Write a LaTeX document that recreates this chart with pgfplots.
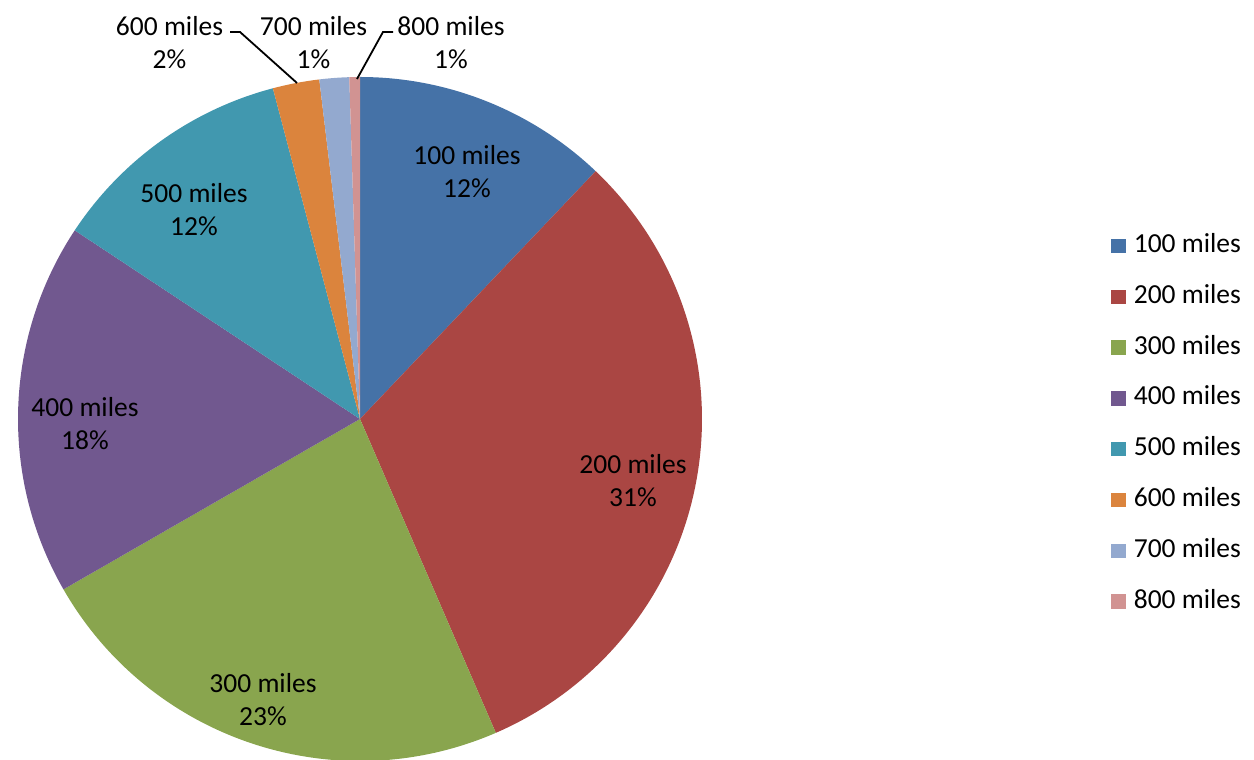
\documentclass[border=0pt]{standalone}
\usepackage{pgfplots}
\usepackage{pgfplotstable}
\pgfplotsset{compat=1.18}
\usepackage{fontspec}
\setmainfont{Carlito}
\definecolor{c0}{HTML}{4572A7}
\definecolor{c1}{HTML}{AA4643}
\definecolor{c2}{HTML}{89A54E}
\definecolor{c3}{HTML}{71588F}
\definecolor{c4}{HTML}{4198AF}
\definecolor{c5}{HTML}{DB843D}
\definecolor{c6}{HTML}{93A9CF}
\definecolor{c7}{HTML}{D19392}
\newcommand\lab{\fontsize{13.75}{16.5}\selectfont}
\pgfplotstableread{
label pct
100 12.1
200 31.4
300 23.2
400 17.6
500 11.6
600 2.2
700 1.4
800 0.5
}\piedata
\begin{document}
\begin{tikzpicture}
\begin{axis}[x=0.5pt,y=0.5pt,xmin=0,xmax=1254,ymin=0,ymax=760,
  hide axis,clip=false,
  legend image code/.code={\fill[#1] (0pt,-3.6pt) rectangle (7.2pt,3.6pt);},
  legend style={draw=none,fill=none,font=\lab,
    at={(axis cs:1105,531)},anchor=north west,
    nodes={inner sep=0pt,text height=9.6pt,text depth=3pt},
    row sep=12.8pt,column sep=4pt,cells={anchor=west}},
  legend entries={100 miles,200 miles,300 miles,400 miles,500 miles,600 miles,700 miles,800 miles}]
\coordinate (SW) at (rel axis cs:0,0);
\coordinate (NE) at (rel axis cs:1,1);
\def\cum{0}
\pgfplotsforeachungrouped \i in {0,...,7}{%
  \pgfplotstablegetelem{\i}{pct}\of\piedata
  \pgfmathsetmacro\a{90-3.6*\cum}%
  \pgfmathsetmacro\cum{\cum+\pgfplotsretval}%
  \pgfmathsetmacro\b{90-3.6*\cum}%
  \edef\temp{\noexpand\addplot[fill=c\i,draw=none] coordinates {(360,341)} -- ++(\a:171pt) arc[start angle=\a,end angle=\b,radius=171pt] -- cycle;}%
  \temp
}
\node[font=\lab,align=center] at (axis cs:467,588.5) {100 miles\\12\%};
\node[font=\lab,align=center] at (axis cs:633,279) {200 miles\\31\%};
\node[font=\lab,align=center] at (axis cs:263,60.5) {300 miles\\23\%};
\node[font=\lab,align=center] at (axis cs:85,336) {400 miles\\18\%};
\node[font=\lab,align=center] at (axis cs:194,550.5) {500 miles\\12\%};
\node[font=\lab,align=center] at (axis cs:169.5,717.5) {600 miles\\2\%};
\node[font=\lab,align=center] at (axis cs:313.5,717.5) {700 miles\\1\%};
\node[font=\lab,align=center] at (axis cs:451,717.5) {800 miles\\1\%};
\draw[black,line width=0.9pt] (axis cs:230,728) -- (axis cs:240,728) -- (axis cs:297,677);
\draw[black,line width=0.9pt] (axis cs:393,728) -- (axis cs:383,728) -- (axis cs:357,681);
\end{axis}
\pgfresetboundingbox
\path (SW) rectangle (NE);
\end{tikzpicture}
\end{document}
